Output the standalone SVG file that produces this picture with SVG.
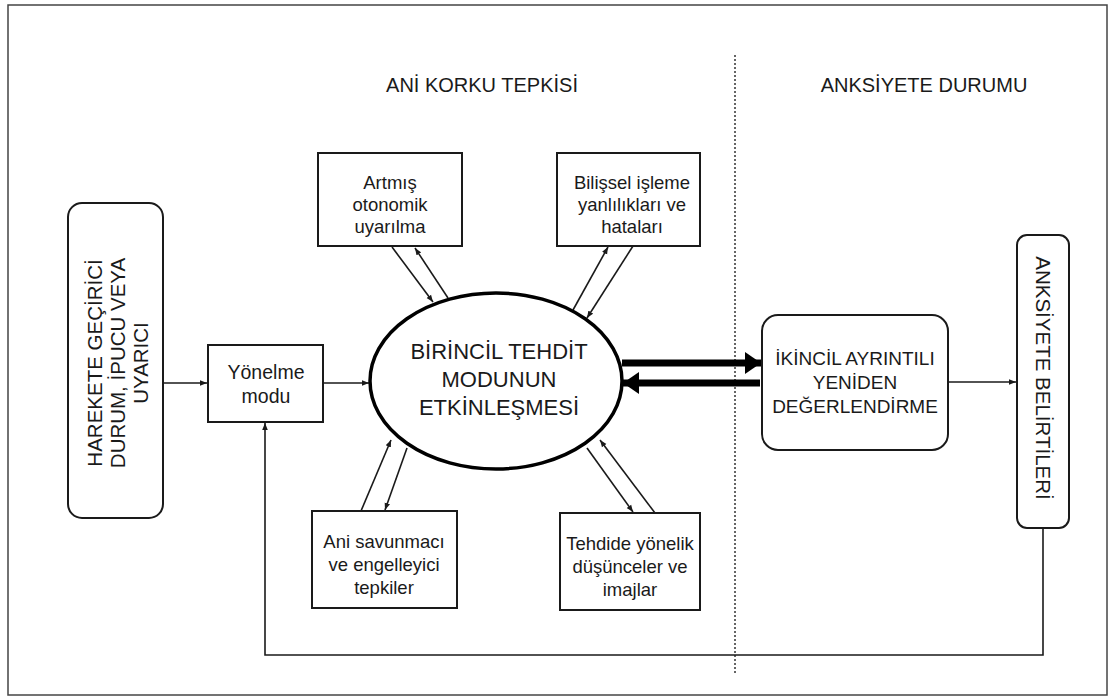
<svg xmlns="http://www.w3.org/2000/svg" width="1112" height="700" viewBox="0 0 1112 700">
<defs>
<style>
text{font-family:"Liberation Sans",Arial,sans-serif;fill:#1a1a1a;text-anchor:middle}
.box{fill:#fff;stroke:#1a1a1a;stroke-width:2}
.ln{fill:none;stroke:#1a1a1a;stroke-width:1.6}
.thick{fill:none;stroke:#000;stroke-width:7}
.t17{font-size:18.5px}
.t19{font-size:19px}
.t20{font-size:20px}
.t22{font-size:22px}
</style>
<marker id="a" viewBox="0 0 10 10" refX="10" refY="5" markerWidth="7" markerHeight="7" orient="auto" markerUnits="userSpaceOnUse"><path d="M0,1 L10,5 L0,9 Z" fill="#1a1a1a"/></marker>
<marker id="at" viewBox="0 0 10 10" refX="10" refY="5" markerWidth="16" markerHeight="22" orient="auto" markerUnits="userSpaceOnUse" preserveAspectRatio="none"><path d="M0,0 L10,5 L0,10 Z" fill="#000"/></marker>
</defs>
<rect x="0" y="0" width="1112" height="700" fill="#fff"/>
<rect x="8" y="5" width="1099" height="690" fill="none" stroke="#444" stroke-width="1.5"/>
<g id="titles">
<text x="482" y="92" class="t20">ANİ KORKU TEPKİSİ</text>
<text x="924" y="92" class="t20">ANKSİYETE DURUMU</text>
</g>
<line x1="735" y1="55" x2="735" y2="675" stroke="#333" stroke-width="1.5" stroke-dasharray="2,2"/>
<g id="connectors">
<line x1="163" y1="383" x2="207" y2="383" class="ln" marker-end="url(#a)"/>
<line x1="323" y1="383" x2="369" y2="383" class="ln" marker-end="url(#a)"/>
<line x1="392" y1="247" x2="433" y2="302" class="ln" marker-end="url(#a)"/>
<line x1="448" y1="298" x2="415" y2="248" class="ln" marker-end="url(#a)"/>
<line x1="573" y1="310" x2="608" y2="247" class="ln" marker-end="url(#a)"/>
<line x1="633" y1="246" x2="587" y2="318" class="ln" marker-end="url(#a)"/>
<line x1="361" y1="511" x2="391" y2="440" class="ln" marker-end="url(#a)"/>
<line x1="407" y1="448" x2="385" y2="510" class="ln" marker-end="url(#a)"/>
<line x1="587" y1="448" x2="633" y2="512" class="ln" marker-end="url(#a)"/>
<line x1="655" y1="513" x2="600" y2="440" class="ln" marker-end="url(#a)"/>
<line x1="622" y1="363" x2="761" y2="363" class="thick" marker-end="url(#at)"/>
<line x1="760" y1="383" x2="623" y2="383" class="thick" marker-end="url(#at)"/>
<line x1="948" y1="382" x2="1016" y2="382" class="ln" marker-end="url(#a)"/>
<polyline points="1043,528 1043,655 265,655 265,423" class="ln" marker-end="url(#a)"/>
</g>
<g id="n-stimulus">
<rect x="68" y="203" width="95" height="315" rx="14" class="box"/>
<text transform="translate(118,363) rotate(-90)" style="font-size:20.5px"><tspan x="0" y="-16">HAREKETE GEÇİRİCİ</tspan><tspan x="0" y="7">DURUM, İPUCU VEYA</tspan><tspan x="0" y="30">UYARICI</tspan></text>
</g>
<g id="n-yonelme">
<rect x="208" y="345" width="115" height="77" class="box"/>
<text x="266" y="379" style="font-size:19.5px">Yönelme</text>
<text x="266" y="403" style="font-size:19.5px">modu</text>
</g>
<g id="n-birincil">
<ellipse cx="496" cy="381" rx="126" ry="88" fill="#fff" stroke="#000" stroke-width="3.5"/>
<text x="499" y="359" class="t22">BİRİNCİL  TEHDİT</text>
<text x="499" y="387" class="t22">MODUNUN</text>
<text x="499" y="415" class="t22">ETKİNLEŞMESİ</text>
</g>
<g id="n-artmis">
<rect x="318" y="153" width="144" height="93" class="box"/>
<text x="390" y="189" class="t17">Artmış</text>
<text x="390" y="211" class="t17">otonomik</text>
<text x="390" y="233" class="t17">uyarılma</text>
</g>
<g id="n-bilissel">
<rect x="557" y="153" width="143" height="93" class="box"/>
<text x="632" y="189" class="t17">Bilişsel işleme</text>
<text x="632" y="211" class="t17">yanlılıkları ve</text>
<text x="632" y="233" class="t17">hataları</text>
</g>
<g id="n-savunmaci">
<rect x="312" y="511" width="145" height="97" class="box"/>
<text x="384" y="548" class="t17">Ani savunmacı</text>
<text x="384" y="571" class="t17">ve engelleyici</text>
<text x="384" y="594" class="t17">tepkiler</text>
</g>
<g id="n-tehdide">
<rect x="560" y="513" width="140" height="97" class="box"/>
<text x="630" y="550" class="t17">Tehdide yönelik</text>
<text x="630" y="573" class="t17">düşünceler ve</text>
<text x="630" y="596" class="t17">imajlar</text>
</g>
<g id="n-ikincil">
<rect x="762" y="315" width="186" height="135" rx="16" class="box"/>
<text x="855" y="365" class="t19">İKİNCİL AYRINTILI</text>
<text x="855" y="389" class="t19">YENİDEN</text>
<text x="855" y="413" class="t19">DEĞERLENDİRME</text>
</g>
<g id="n-belirtiler">
<rect x="1017" y="235" width="52" height="293" rx="10" class="box"/>
<text transform="translate(1043,378) rotate(90)" style="font-size:20.5px" y="7">ANKSİYETE BELİRTİLERİ</text>
</g>
</svg>
